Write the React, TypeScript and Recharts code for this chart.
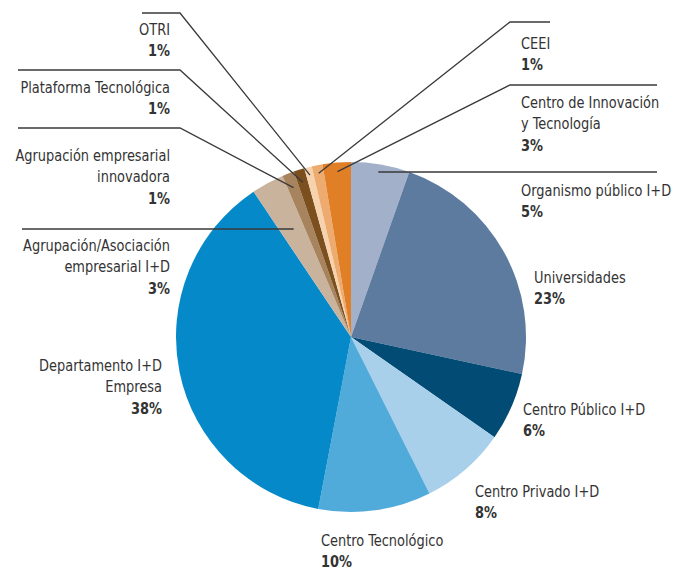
import { Cell, Pie, PieChart } from 'recharts'

// slices clockwise from 12 o'clock
const categories = [
  'Organismo público I+D',
  'Universidades',
  'Centro Público I+D',
  'Centro Privado I+D',
  'Centro Tecnológico',
  'Departamento I+D\nEmpresa',
  'Agrupación/Asociación\nempresarial I+D',
  'Agrupación empresarial\ninnovadora',
  'Plataforma Tecnológica',
  'OTRI',
  'CEEI',
  'Centro de Innovación\ny Tecnología',
]

const shares = [5.4, 23.0, 6.3, 7.9, 10.4, 37.6, 3.0, 1.1, 1.0, 0.7, 1.0, 2.6]

const colors = [
  '#a2b1c9',
  '#5c7b9f',
  '#024b75',
  '#a9d0eb',
  '#50aada',
  '#0589c8',
  '#c9b39c',
  '#a7845d',
  '#7b4f1e',
  '#f6d3ad',
  '#eeab70',
  '#e07f26',
]

const data = categories.map((name, i) => ({ name, value: shares[i] }))

// where each label sits; rule = [outer x, elbow x, y], r = leader end radius
type LabelPos = {
  x: number
  y: number
  anchor: 'start' | 'end'
  rule?: [number, number, number]
  r?: number
}

const labelPos: LabelPos[] = [
  { x: 521, y: 196, anchor: 'start', rule: [657, 379, 172], r: 167 },
  { x: 534, y: 283, anchor: 'start' },
  { x: 523, y: 415, anchor: 'start' },
  { x: 475, y: 497, anchor: 'start' },
  { x: 321, y: 546, anchor: 'start' },
  { x: 162, y: 371, anchor: 'end' },
  { x: 170, y: 251, anchor: 'end', rule: [22, 293, 229], r: 122 },
  { x: 170, y: 161, anchor: 'end', rule: [18, 180, 128], r: 160 },
  { x: 170, y: 93, anchor: 'end', rule: [18, 180, 70], r: 162 },
  { x: 170, y: 35, anchor: 'end', rule: [142, 180, 13], r: 167 },
  { x: 521, y: 49, anchor: 'start', rule: [550, 510, 22], r: 167 },
  { x: 521, y: 108, anchor: 'start', rule: [657, 510, 85], r: 166 },
]

const RAD = Math.PI / 180
const LINE_H = 21.5
const FONT = '"DejaVu Sans Condensed", "Liberation Sans Narrow", sans-serif'

function renderLabel(props: any) {
  const { cx, cy, midAngle, percent, index } = props
  const pos = labelPos[index]
  const lines = categories[index].split('\n')
  let leader = null
  if (pos.rule) {
    const [x0, xe, y] = pos.rule
    const px = cx + (pos.r ?? 165) * Math.cos(-midAngle * RAD)
    const py = cy + (pos.r ?? 165) * Math.sin(-midAngle * RAD)
    leader = (
      <polyline
        points={`${x0},${y} ${xe},${y} ${px},${py}`}
        fill='none'
        stroke='#3a3a3a'
        strokeWidth={1.3}
      />
    )
  }
  return (
    <g key={`lbl-${index}`}>
      {leader}
      <text
        x={pos.x}
        y={pos.y}
        textAnchor={pos.anchor}
        fill='#333'
        fontSize={15}
        fontFamily={FONT}
        transform={`translate(${pos.x} 0) scale(0.96 1) translate(${-pos.x} 0)`}
      >
        {lines.map((l, i) => (
          <tspan key={i} x={pos.x} y={pos.y + i * LINE_H}>
            {l}
          </tspan>
        ))}
        <tspan x={pos.x} y={pos.y + lines.length * LINE_H} fontWeight='bold'>
          {`${Math.round(percent * 100)}%`}
        </tspan>
      </text>
    </g>
  )
}

export default function App() {
  return (
    <div style={{ position: 'absolute', left: 0, top: 0, background: '#fff' }}>
      <PieChart width={689} height={571} margin={{ top: 0, right: 0, bottom: 0, left: 0 }}>
        <Pie
          data={data}
          dataKey='value'
          nameKey='name'
          cx={351}
          cy={337}
          outerRadius={175}
          startAngle={90}
          endAngle={-270}
          stroke='none'
          labelLine={false}
          label={renderLabel}
          isAnimationActive={false}
        >
          {data.map((d, i) => (
            <Cell key={d.name} fill={colors[i]} />
          ))}
        </Pie>
      </PieChart>
    </div>
  )
}
